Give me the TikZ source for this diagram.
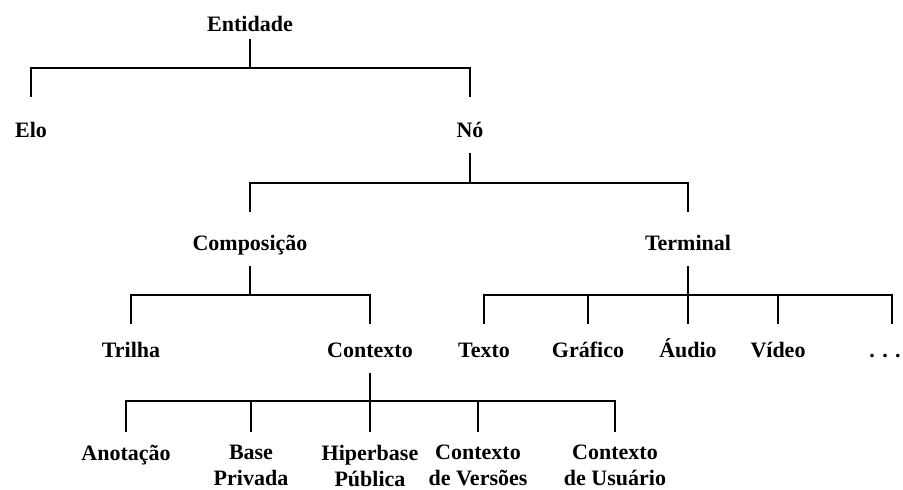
\documentclass[tikz,border=0pt]{standalone}
\usepackage{fontspec}
\setmainfont{Liberation Serif}

\begin{document}
\begin{tikzpicture}[x=1pt,y=-1pt,line width=1.6pt,
    lbl/.style={font=\bfseries\fontsize{22}{27}\selectfont,inner sep=0pt,
      anchor=base,text height=15pt,text depth=0pt},
    leaf/.style={font=\bfseries\fontsize{22}{26}\selectfont,inner sep=0pt,
      anchor=north,align=center},
    stem/.style={shorten <=#1},
    drop/.style={shorten >=#1}]
        \useasboundingbox (0,0) rectangle (903,490);

        \node[lbl] (ent)  at (250,31)  {Entidade};
        \node[lbl] (elo)  at (31,137)  {Elo};
        \node[lbl] (no)   at (470,137) {Nó};
        \node[lbl] (comp) at (250,250) {Composição};
        \node[lbl] (term) at (688,250) {Terminal};
        \node[lbl] (tri)  at (131,357) {Trilha};
        \node[lbl] (ctx)  at (370,357) {Contexto};
        \foreach \c/\x/\t in {tex/484/Texto,gra/588/Gráfico,aud/688/Áudio,vid/778/Vídeo} {
          \node[lbl] (\c) at (\x,357) {\t};
        }
        \node[lbl] (mais) at (885,357) {. . .};
        \foreach \c/\x/\t in {ano/126/Anotação,bpr/251/Base\\Privada,hpu/370/Hiperbase\\Pública,
                              cve/478/Contexto\\de Versões,cus/615/Contexto\\de Usuário} {
          \node[leaf] (\c) at (\x,444) {\t};
        }

        \coordinate (jEnt)  at (250,68);
        \coordinate (jNo)   at (470,183);
        \coordinate (jComp) at (250,295);
        \coordinate (jTerm) at (688,295);
        \coordinate (jCtx)  at (370,401);

        \draw[stem=7pt] (ent.south) -- (jEnt);
        \foreach \c in {elo,no} \draw[drop=24pt] (jEnt) -| (\c.north);

        \draw[stem=15pt] (no.south) -- (jNo);
        \foreach \c in {comp,term} \draw[drop=22pt] (jNo) -| (\c.north);

        \draw[stem=15pt] (comp.south) -- (jComp);
        \foreach \c in {tri,ctx} \draw[drop=17pt] (jComp) -| (\c.north);

        \draw[stem=15pt] (term.south) -- (jTerm);
        \foreach \c in {tex,gra,aud,vid} \draw[drop=17pt] (jTerm) -| (\c.north);
        \draw[drop=17pt] (jTerm) -| ([xshift=7pt]mais.north);

        \draw[stem=15pt] (ctx.south) -- (jCtx);
        \foreach \c in {ano,bpr,hpu,cve,cus} \draw[drop=12pt] (jCtx) -| (\c.north);
      \end{tikzpicture}
\end{document}
